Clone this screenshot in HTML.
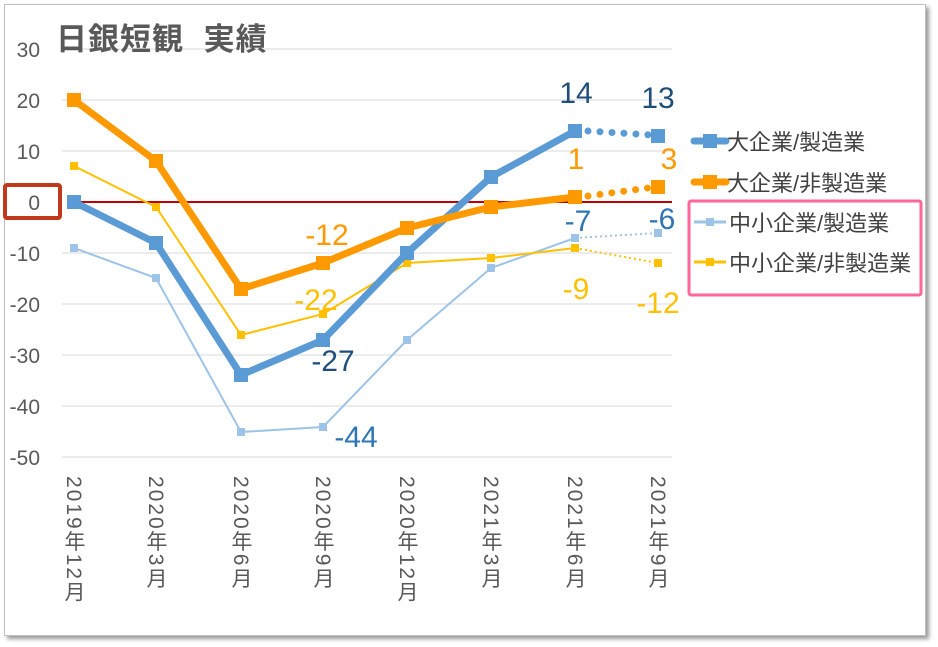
<!DOCTYPE html>
<html><head><meta charset="utf-8"><style>
body{margin:0;background:#fff;width:938px;height:647px;overflow:hidden;font-family:"Liberation Sans","Noto Sans CJK JP",sans-serif}
.xl{position:absolute;top:476px;writing-mode:vertical-rl;text-orientation:mixed;font-size:21px;color:#595959;line-height:22px;letter-spacing:2px}
</style></head><body>
<div style="position:absolute;left:4px;top:4px;width:920px;height:630px;border:1px solid #bfbfbf;box-shadow:3px 3px 4px #999"></div>
<svg width="938" height="647" style="position:absolute;left:0;top:0" font-family="Liberation Sans,Noto Sans CJK JP,sans-serif">
<g stroke="#d9d9d9" stroke-width="1">
<line x1="62" x2="672" y1="49" y2="49"/><line x1="62" x2="672" y1="100" y2="100"/><line x1="62" x2="672" y1="151" y2="151"/>
<line x1="62" x2="672" y1="253" y2="253"/><line x1="62" x2="672" y1="304" y2="304"/><line x1="62" x2="672" y1="355" y2="355"/><line x1="62" x2="672" y1="406" y2="406"/><line x1="62" x2="672" y1="457" y2="457"/>
</g>
<g font-size="21" fill="#595959" text-anchor="end">
<text x="40" y="57">30</text><text x="40" y="108">20</text><text x="40" y="159">10</text><text x="40" y="210">0</text><text x="40" y="261">-10</text><text x="40" y="312">-20</text><text x="40" y="363">-30</text><text x="40" y="414">-40</text><text x="40" y="465">-50</text>
</g>
<text x="56" y="50" font-size="31" font-weight="bold" fill="#595959" letter-spacing="1">日銀短観 <tspan dx="10">実績</tspan></text>
<line x1="74" x2="672" y1="202" y2="202" stroke="#C00000" stroke-width="2"/>
<rect x="5" y="185" width="55" height="33" fill="none" stroke="#C0391B" stroke-width="4" rx="2"/>
<polyline fill="none" stroke="#9DC3E6" stroke-width="2" points="74,248 156,278 241,432 323,427 407,340 491,268 575,238"/>
<line x1="575" y1="238" x2="658" y2="233" stroke="#9DC3E6" stroke-width="2" stroke-dasharray="2,3"/>
<g fill="#9DC3E6"><rect x="70" y="244" width="8" height="8"/><rect x="152" y="274" width="8" height="8"/><rect x="237" y="428" width="8" height="8"/><rect x="319" y="423" width="8" height="8"/><rect x="403" y="336" width="8" height="8"/><rect x="487" y="264" width="8" height="8"/><rect x="571" y="234" width="8" height="8"/><rect x="654" y="229" width="8" height="8"/></g>
<polyline fill="none" stroke="#FFC000" stroke-width="2" points="74,166 156,207 241,335 323,314 407,263 491,258 575,248"/>
<line x1="575" y1="248" x2="658" y2="263" stroke="#FFC000" stroke-width="2" stroke-dasharray="2,3"/>
<g fill="#FFC000"><rect x="70" y="162" width="8" height="8"/><rect x="152" y="203" width="8" height="8"/><rect x="237" y="331" width="8" height="8"/><rect x="319" y="310" width="8" height="8"/><rect x="403" y="259" width="8" height="8"/><rect x="487" y="254" width="8" height="8"/><rect x="571" y="244" width="8" height="8"/><rect x="654" y="259" width="8" height="8"/></g>
<polyline fill="none" stroke="#5B9BD5" stroke-width="7" stroke-linejoin="round" points="74,202 156,243 241,375 323,340 407,253 491,177 575,131"/>
<line x1="588" y1="131" x2="652" y2="135" stroke="#5B9BD5" stroke-width="7" stroke-linecap="round" stroke-dasharray="0,12"/>
<g fill="#5B9BD5"><rect x="67" y="195" width="14" height="14"/><rect x="149" y="236" width="14" height="14"/><rect x="234" y="368" width="14" height="14"/><rect x="316" y="333" width="14" height="14"/><rect x="400" y="246" width="14" height="14"/><rect x="484" y="170" width="14" height="14"/><rect x="568" y="124" width="14" height="14"/><rect x="651" y="129" width="14" height="14"/></g>
<polyline fill="none" stroke="#FF9900" stroke-width="7" stroke-linejoin="round" points="74,100 156,161 241,289 323,263 407,228 491,207 575,197"/>
<line x1="588" y1="196" x2="648" y2="188" stroke="#FF9900" stroke-width="7" stroke-linecap="round" stroke-dasharray="0,12"/>
<g fill="#FF9900"><rect x="67" y="93" width="14" height="14"/><rect x="149" y="154" width="14" height="14"/><rect x="234" y="282" width="14" height="14"/><rect x="316" y="256" width="14" height="14"/><rect x="400" y="221" width="14" height="14"/><rect x="484" y="200" width="14" height="14"/><rect x="568" y="190" width="14" height="14"/><rect x="651" y="180" width="14" height="14"/></g>
<g font-size="30" text-anchor="middle">
<text x="327" y="245" fill="#FF9900">-12</text>
<text x="316" y="310" fill="#FFC000">-22</text>
<text x="333" y="371" fill="#1F4E79">-27</text>
<text x="356" y="447" fill="#2E75B6">-44</text>
<text x="576" y="103" fill="#1F4E79">14</text>
<text x="658" y="108" fill="#1F4E79">13</text>
<text x="576" y="169" fill="#FF9900">1</text>
<text x="669" y="169" fill="#FF9900">3</text>
<text x="578" y="231" fill="#2E75B6">-7</text>
<text x="662" y="229" fill="#2E75B6">-6</text>
<text x="576" y="299" fill="#FFC000">-9</text>
<text x="658" y="313" fill="#FFC000">-12</text>
</g>
<line x1="694" y1="141" x2="726" y2="141" stroke="#5B9BD5" stroke-width="7" stroke-linecap="round"/><rect x="703" y="134" width="14" height="14" fill="#5B9BD5"/>
<line x1="694" y1="182" x2="726" y2="182" stroke="#FF9900" stroke-width="7" stroke-linecap="round"/><rect x="703" y="175" width="14" height="14" fill="#FF9900"/>
<line x1="694" y1="222" x2="726" y2="222" stroke="#9DC3E6" stroke-width="3"/><rect x="706" y="218" width="8" height="8" fill="#9DC3E6"/>
<line x1="694" y1="262" x2="726" y2="262" stroke="#FFC000" stroke-width="3"/><rect x="706" y="258" width="8" height="8" fill="#FFC000"/>
<g font-size="22" fill="#404040">
<text x="727" y="150">大企業/製造業</text>
<text x="727" y="191">大企業/非製造業</text>
<text x="729" y="231">中小企業/製造業</text>
<text x="729" y="271">中小企業/非製造業</text>
</g>
<rect x="689" y="201" width="232" height="94" fill="none" stroke="#FF6699" stroke-width="3" rx="2"/>
</svg>
<div class="xl" style="left:62px">2019年12月</div>
<div class="xl" style="left:144px">2020年3月</div>
<div class="xl" style="left:229px">2020年6月</div>
<div class="xl" style="left:311px">2020年9月</div>
<div class="xl" style="left:395px">2020年12月</div>
<div class="xl" style="left:479px">2021年3月</div>
<div class="xl" style="left:563px">2021年6月</div>
<div class="xl" style="left:646px">2021年9月</div>
</body></html>
